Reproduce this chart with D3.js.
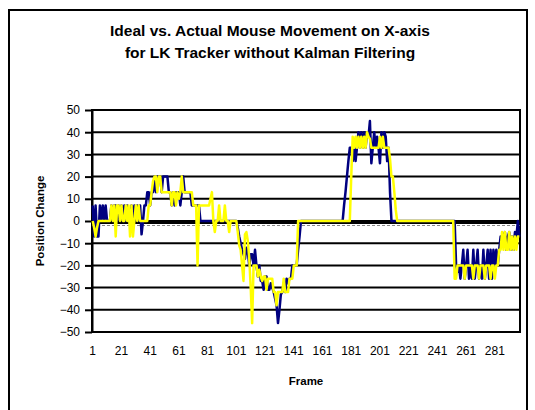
<!DOCTYPE html>
<html>
<head>
<meta charset="utf-8">
<script src="https://cdn.jsdelivr.net/npm/d3@7"></script>
<style>
    body { margin: 0; background: #fff; }
    svg { display: block; font-family: "Liberation Sans", Arial, sans-serif; }
</style>
</head>
<body>
<svg id="chart"></svg>
<script>
// ideal (navy) and actual (yellow) x movement, one value per frame
const idealX = [
    7, -7, 7, -7, -7, 7, 0, 7, 0, 7,
    0, 0, 0, 7, 0, 7, 7, 0, 7, 0,
    7, 0, 7, 0, 7, 0, 0, 7, 0, 7,
    0, 7, 0, 7, -6, 0, 7, 7, 13, 13,
    7, 13, 13, 20, 13, 20, 20, 20, 13, 20,
    20, 20, 20, 13, 13, 7, 13, 7, 13, 13,
    13, 7, 13, 20, 13, 13, 13, 13, 13, 7,
    7, 7, 7, 7, 7, 0, 0, 0, 0, 0,
    0, 0, 0, 0, 0, 0, 0, 0, 0, 0,
    0, 0, 0, 0, 0, 0, 0, 0, 0, 0,
    0, -3, -7, -10, -13, -15, -17, -12, -14, -20,
    -15, -15, -20, -13, -20, -25, -20, -27, -27, -31,
    -25, -25, -31, -31, -28, -30, -32, -35, -38, -46,
    -40, -33, -32, -28, -32, -26, -28, -26, -26, -20,
    -20, -20, -20, -13, -7, 0, 0, 0, 0, 0,
    0, 0, 0, 0, 0, 0, 0, 0, 0, 0,
    0, 0, 0, 0, 0, 0, 0, 0, 0, 0,
    0, 0, 0, 0, 0, 7, 13, 20, 27, 33,
    33, 27, 33, 27, 33, 40, 33, 40, 33, 40,
    33, 40, 38, 45, 26, 33, 40, 33, 38, 33,
    26, 40, 33, 40, 38, 27, 33, 13, 0, 0,
    0, 0, 0, 0, 0, 0, 0, 0, 0, 0,
    0, 0, 0, 0, 0, 0, 0, 0, 0, 0,
    0, 0, 0, 0, 0, 0, 0, 0, 0, 0,
    0, 0, 0, 0, 0, 0, 0, 0, 0, 0,
    0, 0, 0, -20, -23, -20, -26, -20, -13, -26,
    -20, -13, -26, -20, -26, -13, -26, -20, -13, -26,
    -20, -26, -13, -26, -20, -13, -26, -13, -26, -13,
    -20, -13, -20, -13, -7, -7, -7, -5, -13, -7,
    -5, -13, -7, -13, -5, -7, 0, -7
];

const actualX = [
    0, -3, -7, -3, 0, 0, 0, 0, 0, 0,
    0, 0, 0, 7, 0, 7, -7, 7, 7, 0,
    7, 0, 0, 7, 0, 7, -7, 7, -7, 0,
    7, 0, 7, 0, 0, 0, 0, 0, 0, 7,
    7, 13, 18, 20, 20, 13, 20, 20, 13, 13,
    13, 13, 13, 13, 13, 7, 13, 13, 7, 13,
    10, 13, 20, 13, 13, 13, 13, 13, 13, 13,
    7, 7, 7, -20, 7, 7, 7, 7, 7, 7,
    7, 7, 10, 13, 0, -5, 0, 0, 7, 0,
    0, 0, 7, 0, 0, -5, 0, 0, 0, 0,
    0, -5, -11, -13, -20, -27, -6, -5, -9, -17,
    -30, -46, -20, -20, -20, -25, -22, -25, -27, -25,
    -25, -31, -26, -26, -26, -26, -32, -32, -38, -32,
    -32, -32, -32, -26, -32, -32, -32, -26, -26, -26,
    -20, -20, -20, 0, 0, 0, 0, 0, 0, 0,
    0, 0, 0, 0, 0, 0, 0, 0, 0, 0,
    0, 0, 0, 0, 0, 0, 0, 0, 0, 0,
    0, 0, 0, 0, 0, 0, 0, 0, 0, 0,
    20, 38, 33, 38, 33, 38, 33, 38, 33, 38,
    33, 40, 38, 37, 33, 33, 33, 33, 33, 33,
    38, 33, 38, 33, 33, 33, 33, 28, 20, 20,
    13, 5, 0, 0, 0, 0, 0, 0, 0, 0,
    0, 0, 0, 0, 0, 0, 0, 0, 0, 0,
    0, 0, 0, 0, 0, 0, 0, 0, 0, 0,
    0, 0, 0, 0, 0, 0, 0, 0, 0, 0,
    0, 0, -26, -26, -20, -20, -20, -20, -20, -26,
    -20, -20, -20, -20, -20, -26, -20, -20, -20, -26,
    -20, -20, -20, -26, -20, -20, -20, -26, -20, -20,
    -26, -20, -20, -13, -13, -5, -13, -5, -13, -13,
    -5, -13, -7, -13, -7, -13, -7, -7
];

const yTicks = [-50, -40, -30, -20, -10, 0, 10, 20, 30, 40, 50];
const xTickLabels = [1, 21, 41, 61, 81, 101, 121, 141, 161, 181, 201, 221, 241, 261, 281];
const titleLines = ["Ideal vs. Actual Mouse Movement on X-axis", "for LK Tracker without Kalman Filtering"];

const width = 535, height = 410;
const svg = d3.select("#chart").attr("width", width).attr("height", height);

const plot = { left: 92, right: 520, top: 110, bottom: 332 };

// outer chart border (bottom edge runs off the picture)
svg.append("rect")
    .attr("x", 9).attr("y", 10)
    .attr("width", 518).attr("height", 440)
    .attr("fill", "none").attr("stroke", "#000").attr("stroke-width", 2);

svg.selectAll(".title").data(titleLines).join("text")
    .attr("class", "title")
    .attr("x", 270)
    .attr("y", (d, i) => 36 + i * 22)
    .attr("text-anchor", "middle")
    .attr("font-size", "15.5px")
    .attr("font-weight", "bold")
    .text(d => d);

const frames = idealX.map((_, i) => i + 1);
const x = d3.scaleBand().domain(frames).range([plot.left, plot.right]).padding(0);
const y = d3.scaleLinear().domain([-50, 50]).range([plot.bottom, plot.top]);
const cx = f => x(f) + x.bandwidth() / 2;

// gridlines
svg.append("g")
    .selectAll("line").data(yTicks.filter(v => v !== 0)).join("line")
    .attr("x1", plot.left).attr("x2", plot.right)
    .attr("y1", d => y(d)).attr("y2", d => y(d))
    .attr("stroke", "#000").attr("stroke-width", 2);

// y axis with ticks
const yAxis = svg.append("g")
    .attr("transform", `translate(${plot.left},0)`)
    .call(d3.axisLeft(y).tickValues(yTicks).tickSize(7).tickPadding(5).tickSizeOuter(0));
yAxis.select(".domain").attr("stroke-width", 2);
yAxis.selectAll(".tick line").attr("stroke-width", 2);
yAxis.selectAll("text").attr("font-size", "12px").attr("font-family", "Liberation Sans, Arial, sans-serif").attr("fill", "#000");

// plot frame
svg.append("rect")
    .attr("x", plot.left).attr("y", plot.top)
    .attr("width", plot.right - plot.left).attr("height", plot.bottom - plot.top)
    .attr("fill", "none").attr("stroke", "#000").attr("stroke-width", 2);

// category axis crossing at zero
svg.append("line")
    .attr("x1", plot.left).attr("x2", plot.right)
    .attr("y1", y(0) + 1).attr("y2", y(0) + 1)
    .attr("stroke", "#000").attr("stroke-width", 4);
svg.append("line")
    .attr("x1", plot.left).attr("x2", plot.right)
    .attr("y1", y(0) + 4.5).attr("y2", y(0) + 4.5)
    .attr("stroke", "#888").attr("stroke-width", 1)
    .attr("stroke-dasharray", "3,2");

// x labels below the plot
const xAxis = svg.append("g")
    .attr("transform", `translate(0,${plot.bottom})`)
    .call(d3.axisBottom(x).tickValues(xTickLabels).tickSize(0).tickPadding(14));
xAxis.select(".domain").remove();
xAxis.selectAll("text").attr("font-size", "12px").attr("font-family", "Liberation Sans, Arial, sans-serif").attr("fill", "#000");

const line = d3.line().x((d, i) => cx(frames[i])).y(d => y(d));

svg.append("path").datum(idealX)
    .attr("d", line)
    .attr("fill", "none").attr("stroke", "#000080").attr("stroke-width", 2.5)
    .attr("stroke-linejoin", "round");

svg.append("path").datum(actualX)
    .attr("d", line)
    .attr("fill", "none").attr("stroke", "#FFFF00").attr("stroke-width", 2.5)
    .attr("stroke-linejoin", "round");

// axis titles
svg.append("text")
    .attr("x", (plot.left + plot.right) / 2).attr("y", 385)
    .attr("text-anchor", "middle")
    .attr("font-size", "11.5px").attr("font-weight", "bold")
    .text("Frame");

svg.append("text")
    .attr("transform", `translate(44,${(plot.top + plot.bottom) / 2}) rotate(-90)`)
    .attr("text-anchor", "middle")
    .attr("font-size", "11.5px").attr("font-weight", "bold")
    .text("Position Change");
</script>
</body>
</html>
